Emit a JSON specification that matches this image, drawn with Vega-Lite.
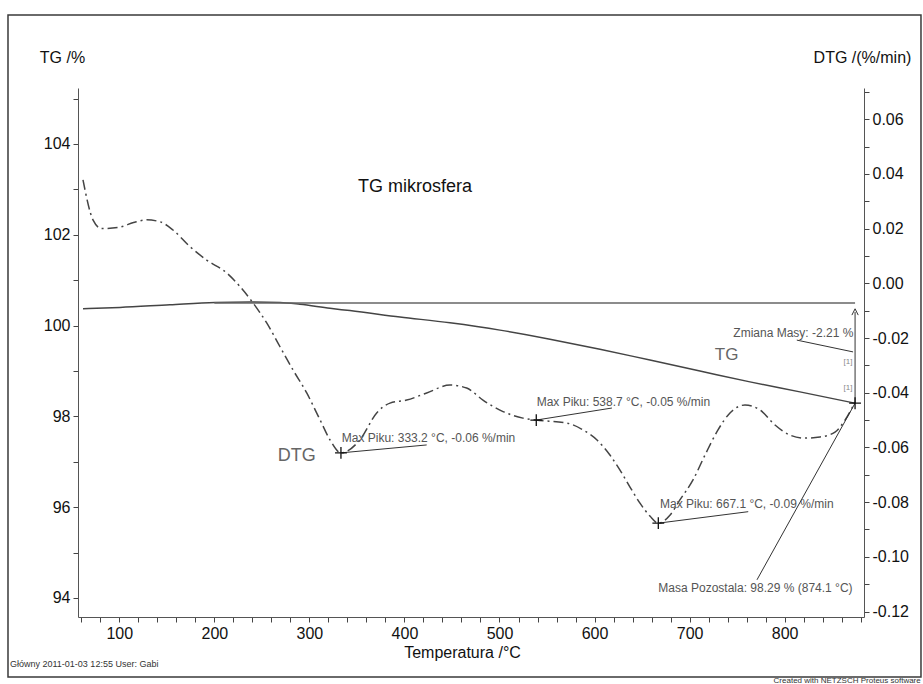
{
  "$schema": "https://vega.github.io/schema/vega-lite/v6.json",
  "width": 786,
  "height": 529,
  "autosize": {"type": "none"},
  "padding": {"left": 78, "top": 88, "right": 59, "bottom": 67},
  "background": "white",
  "config": {"view": {"stroke": null}, "font": "Liberation Sans"},
  "datasets": {
    "one": [{"k": 1}],
    "tg": [
      {"t": 61.8, "tg": 100.37}, {"t": 100.7, "tg": 100.40}, {"t": 153.3, "tg": 100.46},
      {"t": 200.7, "tg": 100.51}, {"t": 237.5, "tg": 100.52}, {"t": 269.1, "tg": 100.51},
      {"t": 290.1, "tg": 100.47}, {"t": 321.7, "tg": 100.38}, {"t": 342.7, "tg": 100.33},
      {"t": 395.3, "tg": 100.19}, {"t": 447.9, "tg": 100.06}, {"t": 500.5, "tg": 99.90},
      {"t": 553.1, "tg": 99.70}, {"t": 605.7, "tg": 99.48}, {"t": 658.3, "tg": 99.24},
      {"t": 710.9, "tg": 99.00}, {"t": 763.5, "tg": 98.76}, {"t": 816.1, "tg": 98.54},
      {"t": 874.1, "tg": 98.29}
    ],
    "dtg": [
      {"t": 61.8, "dtg": 0.0378}, {"t": 72.3, "dtg": 0.0232}, {"t": 81.5, "dtg": 0.0200},
      {"t": 100.0, "dtg": 0.0205}, {"t": 115.0, "dtg": 0.0222}, {"t": 128.8, "dtg": 0.0232},
      {"t": 142.8, "dtg": 0.0225}, {"t": 156.5, "dtg": 0.0195}, {"t": 174.4, "dtg": 0.0134},
      {"t": 191.9, "dtg": 0.0085}, {"t": 213.0, "dtg": 0.0038}, {"t": 227.0, "dtg": -0.0012},
      {"t": 240.7, "dtg": -0.0072}, {"t": 255.1, "dtg": -0.0145}, {"t": 269.1, "dtg": -0.0232},
      {"t": 282.8, "dtg": -0.0317}, {"t": 297.2, "dtg": -0.0401}, {"t": 311.3, "dtg": -0.0500},
      {"t": 321.8, "dtg": -0.0573}, {"t": 333.2, "dtg": -0.0620}, {"t": 353.0, "dtg": -0.0573},
      {"t": 370.8, "dtg": -0.0474}, {"t": 384.8, "dtg": -0.0438}, {"t": 402.4, "dtg": -0.0427},
      {"t": 423.4, "dtg": -0.0401}, {"t": 447.9, "dtg": -0.0372}, {"t": 465.5, "dtg": -0.0383},
      {"t": 482.6, "dtg": -0.0427}, {"t": 503.7, "dtg": -0.0469}, {"t": 524.7, "dtg": -0.0493},
      {"t": 538.7, "dtg": -0.0500}, {"t": 571.0, "dtg": -0.0511}, {"t": 587.8, "dtg": -0.0536},
      {"t": 602.6, "dtg": -0.0573}, {"t": 616.2, "dtg": -0.0628}, {"t": 626.8, "dtg": -0.0683},
      {"t": 637.3, "dtg": -0.0745}, {"t": 647.8, "dtg": -0.0804}, {"t": 658.3, "dtg": -0.0851},
      {"t": 667.1, "dtg": -0.0877}, {"t": 679.3, "dtg": -0.0848}, {"t": 689.8, "dtg": -0.0792},
      {"t": 703.6, "dtg": -0.0719}, {"t": 716.2, "dtg": -0.0628}, {"t": 729.9, "dtg": -0.0536},
      {"t": 742.5, "dtg": -0.0474}, {"t": 758.3, "dtg": -0.0445}, {"t": 774.1, "dtg": -0.0463},
      {"t": 789.9, "dtg": -0.0518}, {"t": 805.6, "dtg": -0.0555}, {"t": 821.4, "dtg": -0.0566},
      {"t": 837.2, "dtg": -0.0562}, {"t": 853.0, "dtg": -0.0544}, {"t": 863.5, "dtg": -0.0500},
      {"t": 874.1, "dtg": -0.0434}
    ],
    "dtgPeaks": [
      {"t": 333.2, "dtg": -0.0620, "lt": 423.4, "ldtg": -0.0591, "tx": 334.0, "ty": -0.0567, "label": "Max Piku: 333.2 °C, -0.06 %/min"},
      {"t": 538.7, "dtg": -0.0500, "lt": 618.3, "ldtg": -0.0456, "tx": 539.1, "ty": -0.0433, "label": "Max Piku: 538.7 °C, -0.05 %/min"},
      {"t": 667.1, "dtg": -0.0877, "lt": 761.7, "ldtg": -0.0835, "tx": 668.9, "ty": -0.0807, "label": "Max Piku: 667.1 °C, -0.09 %/min"}
    ],
    "centerNotes": [
      {"t": 411.1, "tg": 103.05, "label": "TG mikrosfera", "size": 18, "color": "#111"},
      {"t": 739.0, "tg": 99.35, "label": "TG", "size": 17, "color": "#666"},
      {"t": 286.6, "tg": 97.13, "label": "DTG", "size": 18, "color": "#666"},
      {"t": 866.6, "tg": 99.205, "label": "[1]", "size": 8, "color": "#888"},
      {"t": 866.6, "tg": 98.62, "label": "[1]", "size": 8, "color": "#888"}
    ],
    "leftNotes": [
      {"t": 746.0, "tg": 99.84, "label": "Zmiana Masy: -2.21 %", "size": 12, "color": "#555"},
      {"t": 667.1, "tg": 94.21, "label": "Masa Pozostala: 98.29 % (874.1 °C)", "size": 12, "color": "#555"},
      {"t": -15.0, "tg": 92.546, "label": "Główny   2011-01-03 12:55   User: Gabi", "size": 9, "color": "#333"}
    ],
    "rightNotes": [
      {"t": 943.2, "tg": 92.17, "label": "Created with NETZSCH Proteus software", "size": 8, "color": "#333"}
    ],
    "tgLeaders": [
      {"t": 770.9, "tg": 94.40, "t2": 874.1, "tg2": 98.29},
      {"t": 812.8, "tg": 99.68, "t2": 872.0, "tg2": 99.42},
      {"t": 874.1, "tg": 98.29, "t2": 874.1, "tg2": 100.30}
    ]
  },
  "resolve": {"scale": {"y": "independent"}},
  "layer": [
    {
      "data": {"name": "tg"},
      "mark": {"type": "line", "color": "#444", "strokeWidth": 1.5, "interpolate": "monotone"},
      "encoding": {
        "x": {
          "field": "t", "type": "quantitative",
          "scale": {"domain": [56.55, 883.5], "nice": false, "zero": false},
          "axis": {
            "orient": "bottom", "grid": false, "tickCount": 200,
            "values": [60, 80, 100, 120, 140, 160, 180, 200, 220, 240, 260, 280, 300, 320, 340, 360, 380, 400, 420, 440, 460, 480, 500, 520, 540, 560, 580, 600, 620, 640, 660, 680, 700, 720, 740, 760, 780, 800, 820, 840, 860, 880],
            "labelExpr": "datum.value % 100 === 0 ? format(datum.value, 'd') : ''",
            "labelOverlap": false, "labelFlush": false,
            "tickSize": 5, "tickColor": "#444", "domainColor": "#555",
            "labelFontSize": 16, "labelColor": "#111", "labelPadding": 3,
            "title": "Temperatura /°C", "titleFontSize": 16, "titleFontWeight": "normal", "titleColor": "#111",
            "titleX": 384, "titleY": 35, "titleAlign": "center", "titleBaseline": "middle"
          }
        },
        "y": {
          "field": "tg", "type": "quantitative",
          "scale": {"domain": [93.581, 105.233], "nice": false, "zero": false},
          "axis": {
            "orient": "left", "grid": false, "tickCount": 200,
            "values": [94, 95, 96, 97, 98, 99, 100, 101, 102, 103, 104, 105],
            "labelExpr": "datum.value % 2 === 0 ? format(datum.value, 'd') : ''",
            "labelOverlap": false, "labelFlush": false,
            "tickSize": 5, "tickColor": "#444", "domainColor": "#555",
            "labelFontSize": 16, "labelColor": "#111", "labelPadding": 3,
            "title": "TG /%", "titleAngle": 0, "titleFontSize": 16, "titleFontWeight": "normal", "titleColor": "#111",
            "titleX": -16, "titleY": -31, "titleAlign": "center", "titleBaseline": "middle"
          }
        }
      }
    },
    {
      "data": {"name": "dtg"},
      "mark": {"type": "line", "color": "#444", "strokeWidth": 1.5, "strokeDash": [10, 4, 2, 4], "interpolate": "monotone"},
      "encoding": {
        "x": {"field": "t", "type": "quantitative"},
        "y": {
          "field": "dtg", "type": "quantitative",
          "scale": {"domain": [-0.12201, 0.07141], "nice": false, "zero": false},
          "axis": {
            "orient": "right", "grid": false, "tickCount": 200,
            "values": [-0.12, -0.11, -0.10, -0.09, -0.08, -0.07, -0.06, -0.05, -0.04, -0.03, -0.02, -0.01, 0, 0.01, 0.02, 0.03, 0.04, 0.05, 0.06, 0.07],
            "labelExpr": "abs(round(datum.value * 100)) % 2 === 0 ? (datum.value < -0.0001 ? '-' + format(abs(datum.value), '.2f') : format(abs(datum.value), '.2f')) : ''",
            "labelOverlap": false, "labelFlush": false,
            "tickSize": 5, "tickColor": "#444", "domainColor": "#555",
            "labelFontSize": 16, "labelColor": "#111", "labelPadding": 3,
            "title": "DTG /(%/min)", "titleAngle": 0, "titleFontSize": 16, "titleFontWeight": "normal", "titleColor": "#111",
            "titleX": -2, "titleY": -31, "titleAlign": "center", "titleBaseline": "middle"
          }
        }
      }
    },
    {
      "data": {"name": "one"},
      "mark": {"type": "rect", "fill": "transparent", "stroke": "#3a3a3a", "strokeWidth": 1.5},
      "encoding": {
        "x": {"datum": -17.1, "type": "quantitative"},
        "x2": {"datum": 943.45},
        "y": {"datum": 92.26, "type": "quantitative", "scale": {"domain": [93.581, 105.233], "nice": false, "zero": false}, "axis": null},
        "y2": {"datum": 106.841}
      }
    },
    {
      "data": {"name": "one"},
      "mark": {"type": "rule", "color": "#666", "strokeWidth": 1.5},
      "encoding": {
        "x": {"datum": 200.0, "type": "quantitative"},
        "x2": {"datum": 874.1},
        "y": {"datum": 100.50, "type": "quantitative", "scale": {"domain": [93.581, 105.233], "nice": false, "zero": false}, "axis": null}
      }
    },
    {
      "data": {"name": "tgLeaders"},
      "mark": {"type": "rule", "color": "#333", "strokeWidth": 1},
      "encoding": {
        "x": {"field": "t", "type": "quantitative"},
        "x2": {"field": "t2"},
        "y": {"field": "tg", "type": "quantitative", "scale": {"domain": [93.581, 105.233], "nice": false, "zero": false}, "axis": null},
        "y2": {"field": "tg2"}
      }
    },
    {
      "data": {"name": "one"},
      "mark": {"type": "point", "shape": "M-1,1L0,-1L1,1", "filled": false, "stroke": "#333", "strokeWidth": 1, "size": 40, "opacity": 1},
      "encoding": {
        "x": {"datum": 874.1, "type": "quantitative"},
        "y": {"datum": 100.30, "type": "quantitative", "scale": {"domain": [93.581, 105.233], "nice": false, "zero": false}, "axis": null}
      }
    },
    {
      "data": {"name": "one"},
      "mark": {"type": "point", "shape": "M-1,0L1,0M0,-1L0,1", "filled": false, "stroke": "#111", "strokeWidth": 1.3, "size": 140, "opacity": 1},
      "encoding": {
        "x": {"datum": 874.1, "type": "quantitative"},
        "y": {"datum": 98.29, "type": "quantitative", "scale": {"domain": [93.581, 105.233], "nice": false, "zero": false}, "axis": null}
      }
    },
    {
      "data": {"name": "centerNotes"},
      "mark": {"type": "text", "align": "center", "baseline": "middle"},
      "encoding": {
        "x": {"field": "t", "type": "quantitative"},
        "y": {"field": "tg", "type": "quantitative", "scale": {"domain": [93.581, 105.233], "nice": false, "zero": false}, "axis": null},
        "text": {"field": "label"},
        "size": {"field": "size", "type": "quantitative", "scale": null},
        "color": {"field": "color", "type": "nominal", "scale": null}
      }
    },
    {
      "data": {"name": "leftNotes"},
      "mark": {"type": "text", "align": "left", "baseline": "middle"},
      "encoding": {
        "x": {"field": "t", "type": "quantitative"},
        "y": {"field": "tg", "type": "quantitative", "scale": {"domain": [93.581, 105.233], "nice": false, "zero": false}, "axis": null},
        "text": {"field": "label"},
        "size": {"field": "size", "type": "quantitative", "scale": null},
        "color": {"field": "color", "type": "nominal", "scale": null}
      }
    },
    {
      "data": {"name": "rightNotes"},
      "mark": {"type": "text", "align": "right", "baseline": "middle"},
      "encoding": {
        "x": {"field": "t", "type": "quantitative"},
        "y": {"field": "tg", "type": "quantitative", "scale": {"domain": [93.581, 105.233], "nice": false, "zero": false}, "axis": null},
        "text": {"field": "label"},
        "size": {"field": "size", "type": "quantitative", "scale": null},
        "color": {"field": "color", "type": "nominal", "scale": null}
      }
    },
    {
      "data": {"name": "dtgPeaks"},
      "mark": {"type": "rule", "color": "#333", "strokeWidth": 1},
      "encoding": {
        "x": {"field": "t", "type": "quantitative"},
        "x2": {"field": "lt"},
        "y": {"field": "dtg", "type": "quantitative", "scale": {"domain": [-0.12201, 0.07141], "nice": false, "zero": false}, "axis": null},
        "y2": {"field": "ldtg"}
      }
    },
    {
      "data": {"name": "dtgPeaks"},
      "mark": {"type": "point", "shape": "M-1,0L1,0M0,-1L0,1", "filled": false, "stroke": "#111", "strokeWidth": 1.3, "size": 140, "opacity": 1},
      "encoding": {
        "x": {"field": "t", "type": "quantitative"},
        "y": {"field": "dtg", "type": "quantitative", "scale": {"domain": [-0.12201, 0.07141], "nice": false, "zero": false}, "axis": null}
      }
    },
    {
      "data": {"name": "dtgPeaks"},
      "mark": {"type": "text", "align": "left", "baseline": "middle", "fontSize": 12, "color": "#555"},
      "encoding": {
        "x": {"field": "tx", "type": "quantitative"},
        "y": {"field": "ty", "type": "quantitative", "scale": {"domain": [-0.12201, 0.07141], "nice": false, "zero": false}, "axis": null},
        "text": {"field": "label"}
      }
    }
  ]
}
